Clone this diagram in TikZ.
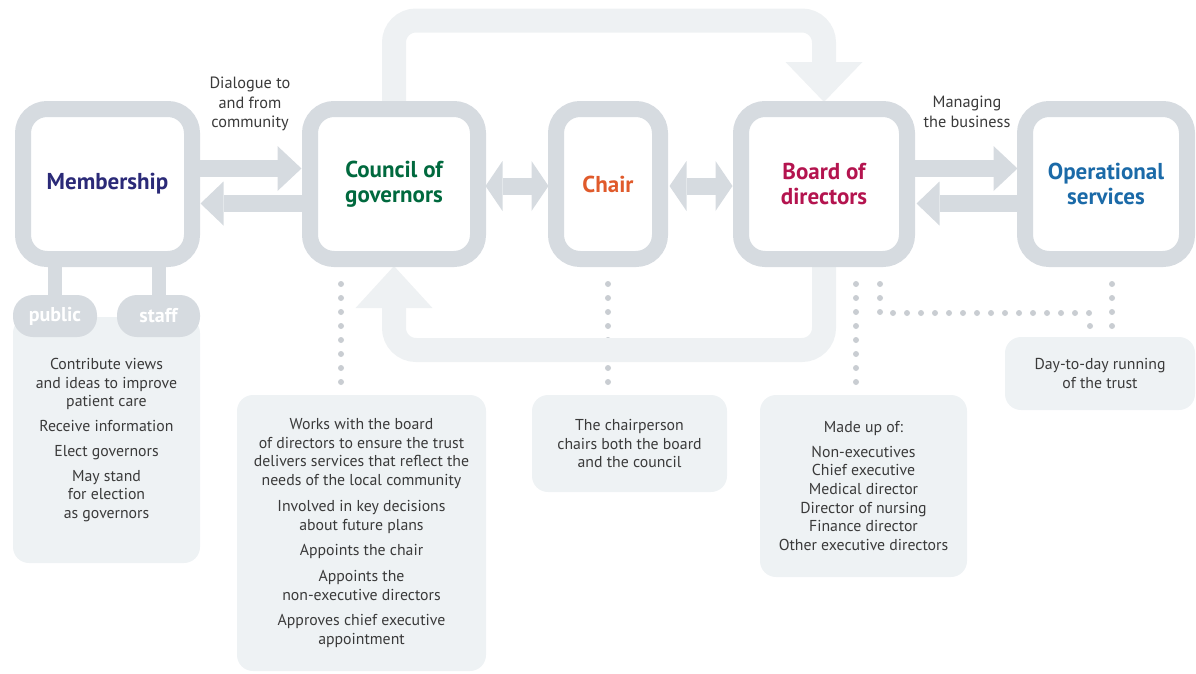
\documentclass[tikz,border=0pt]{standalone}
\usepackage{fontspec}
\setmainfont{PT Sans}
\usetikzlibrary{arrows.meta,backgrounds,positioning}
\definecolor{boxgray}{HTML}{D6DBE0}
\definecolor{loopgray}{HTML}{EEF1F3}
\definecolor{notegray}{HTML}{EEF2F4}
\definecolor{dotgray}{HTML}{C9CDD2}
\definecolor{txtgray}{HTML}{3A3A3A}
\definecolor{memblue}{HTML}{2B2A78}
\definecolor{govgreen}{HTML}{00693E}
\definecolor{chairorange}{HTML}{E05A2B}
\definecolor{brdred}{HTML}{B4144F}
\definecolor{opsblue}{HTML}{1B6AA8}
\tikzset{
 unit/.style={draw=boxgray, line width=16pt, fill=white, rounded corners=24pt, align=center,
  font=\bfseries\fontsize{23}{24.5}\selectfont, inner sep=0pt, minimum height=150pt},
 note/.style={fill=notegray, rounded corners=16pt, align=center, text=txtgray,
  font=\fontsize{15.8}{18.7}\selectfont, inner sep=0pt},
 pill/.style={fill=boxgray, rounded corners=20pt, text=white,
  font=\bfseries\fontsize{20}{20}\selectfont, minimum height=42pt, inner sep=0pt},
 caption/.style={align=center, text=txtgray, font=\fontsize{16.3}{19.5}\selectfont, inner sep=0pt},
 flow/.style={draw=boxgray, line width=17pt},
 loopband/.style={draw=loopgray, line width=24pt, rounded corners=22pt},
 dots/.style={draw=dotgray, line width=6pt, line cap=round, dash pattern=on 0pt off 14pt},
 leg/.style={draw=boxgray, line width=14pt},
}
\begin{document}
\begin{tikzpicture}[x=1pt,y=-1pt]
\useasboundingbox (0,0) rectangle (1196,673);
%main boxes
 \node[unit, minimum width=169pt, text=memblue] (mem) at (107.5,184) {Membership};
 \node[unit, minimum width=168pt, text=govgreen] (gov) at (394,184) {Council of\\governors};
 \node[unit, minimum width=104pt, text=chairorange] (chair) at (608,184) {Chair};
 \node[unit, minimum width=166pt, text=brdred] (brd) at (824,184) {Board of\\directors};
 \node[unit, minimum width=162pt, text=opsblue] (ops) at (1106,184) {Operational\\services};
%captions
 \node[caption] (dlg) at (250,104) {Dialogue to\\and from\\community};
 \node[caption] (mng) at (967,112) {Managing\\the business};
%notes
 \node[note, minimum width=187pt, minimum height=246pt] (memtxt) at (106.5,440)
  {Contribute views\\and ideas to improve\\patient care\\[6pt]Receive information\\[6pt]Elect governors\\[6pt]May stand\\for election\\as governors};
 \node[note, minimum width=249pt, minimum height=276pt] (govtxt) at (361.5,533)
  {Works with the board\\of directors to ensure the trust\\delivers services that reflect the\\needs of the local community\\[7pt]Involved in key decisions\\about future plans\\[7pt]Appoints the chair\\[7pt]Appoints the\\non-executive directors\\[7pt]Approves chief executive\\appointment};
 \node[note, minimum width=195pt, minimum height=97pt] (chairtxt) at (629.5,443.5)
  {The chairperson\\chairs both the board\\and the council};
 \node[note, minimum width=207pt, minimum height=182pt] (brdtxt) at (863.5,486)
  {Made up of:\\[6pt]Non-executives\\Chief executive\\Medical director\\Director of nursing\\Finance director\\Other executive directors};
 \node[note, minimum width=190pt, minimum height=73pt] (opstxt) at (1100,373.5)
  {Day-to-day running\\of the trust};
%member groups
 \node[pill, minimum width=84pt] (pub) at (55,316) {public};
 \node[pill, minimum width=83pt] (stf) at (158.5,316) {staff};
\begin{scope}[on background layer]
 %dotted links
 \draw[dots, shorten <=17pt] ([xshift=-53pt]gov.south) -- ([xshift=-53pt]gov.south |- govtxt.north);
 \draw[dots, shorten <=17pt] (chair.south) -- (chair.south |- chairtxt.north);
 \draw[dots, shorten <=17pt] ([xshift=32pt]brd.south) -- ([xshift=32pt]brd.south |- brdtxt.north);
 \draw[dots, shorten <=17pt, shorten >=4pt] ([xshift=56pt]brd.south) -- ++(0,46) -| ([xshift=-10pt]opstxt.north);
 \draw[dots, shorten <=17pt] ([xshift=6pt]ops.south) -- ([xshift=6pt]ops.south |- opstxt.north);
 %loops
 \draw[loopband, -{Triangle[length=40pt,width=77pt,line width=0pt]}, shorten >=-1pt]
  (gov.north) -- ++(0,-80.5) -| (brd.north);
 \draw[loopband, -{Triangle[length=42pt,width=77pt,line width=0pt]}, shorten >=-1pt]
  (brd.south) -- ++(0,83) -| (gov.south);
 %flows
 \draw[flow, -{Triangle[length=24pt,width=45pt,line width=0pt]}, shorten >=0.5pt]
  ([yshift=15.5pt]mem.east) -- ([yshift=15.5pt]gov.west);
 \draw[flow, -{Triangle[length=23pt,width=44pt,line width=0pt]}, shorten >=0.5pt]
  ([yshift=-19.5pt]gov.west) -- ([yshift=-19.5pt]mem.east);
 \draw[flow, {Triangle[length=17pt,width=50pt,line width=0pt]}-{Triangle[length=17pt,width=50pt,line width=0pt]}, shorten >=-0.5pt, shorten <=-0.5pt]
  ([yshift=-2pt]gov.east) -- ([yshift=-2pt]chair.west);
 \draw[flow, {Triangle[length=17pt,width=50pt,line width=0pt]}-{Triangle[length=17pt,width=50pt,line width=0pt]}, shorten >=0.5pt, shorten <=1.5pt]
  ([yshift=-2pt]chair.east) -- ([yshift=-2pt]brd.west);
 \draw[flow, -{Triangle[length=24pt,width=45pt,line width=0pt]}, shorten >=-0.5pt]
  ([yshift=15.5pt]brd.east) -- ([yshift=15.5pt]ops.west);
 \draw[flow, -{Triangle[length=23pt,width=44pt,line width=0pt]}, shorten >=1.5pt]
  ([yshift=-19.5pt]ops.west) -- ([yshift=-19.5pt]brd.east);
 %legs
 \draw[leg] (pub.north) -- (pub.north |- mem.south);
 \draw[leg] (stf.north) -- (stf.north |- mem.south);
\end{scope}
\end{tikzpicture}
\end{document}
